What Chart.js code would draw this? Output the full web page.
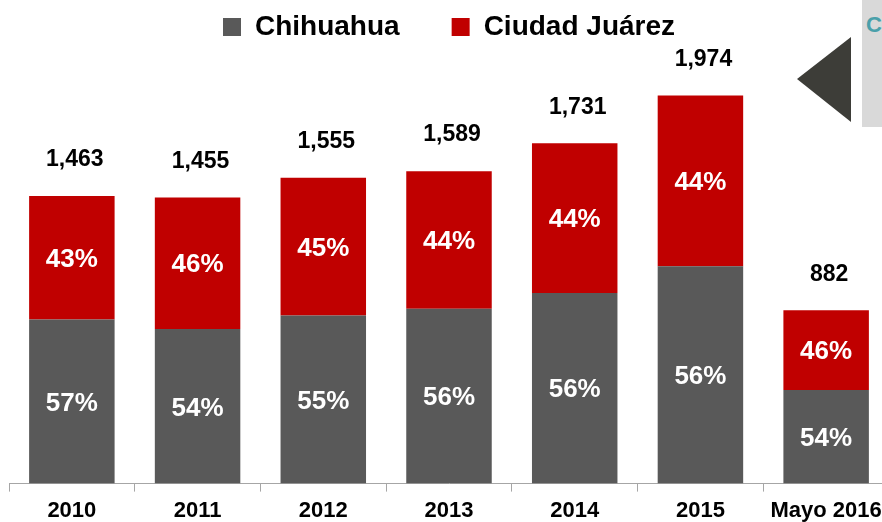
<!DOCTYPE html>
<html>
<head>
<meta charset="utf-8">
<script src="https://cdn.jsdelivr.net/npm/chart.js@4"></script>
<style>
  html, body { margin: 0; padding: 0; background: #fff; overflow: hidden; }
  #wrap { position: relative; width: 890px; height: 522px; overflow: hidden; }
  #side { position: absolute; left: 862px; top: 0; width: 40px; height: 127px; background: #d9d9d9; }
  #side span { position: absolute; left: 4px; top: 12px; font: bold 22px "Liberation Sans", Arial, sans-serif; color: #4aa0aa; }
  #arrow { position: absolute; left: 797px; top: 37px; width: 0; height: 0;
           border-top: 42px solid transparent; border-bottom: 43px solid transparent;
           border-right: 54px solid #3d3d38; }
</style>
</head>
<body>
<div id="wrap">
  <canvas id="chart" width="890" height="530"></canvas>
  <div id="arrow"></div>
  <div id="side"><span>C</span></div>
</div>
<script>
const years = ["2010", "2011", "2012", "2013", "2014", "2015", "Mayo 2016"];
const totals = [1463, 1455, 1555, 1589, 1731, 1974, 882];
const chihuahuaPct = [57, 54, 55, 56, 56, 56, 54];
const juarezPct = [43, 46, 45, 44, 44, 44, 46];

const chihuahua = totals.map((t, i) => t * chihuahuaPct[i] / 100);
const juarez = totals.map((t, i) => t * juarezPct[i] / 100);

const FONT = "'Liberation Sans', Arial, sans-serif";

// totals above each stack, shares inside each segment
const labelPlugin = {
  id: "barLabels",
  afterDatasetsDraw(chart) {
    const ctx = chart.ctx;
    const pcts = [chihuahuaPct, juarezPct];
    ctx.save();
    ctx.textAlign = "center";
    ctx.textBaseline = "middle";
    ctx.font = "bold 26px " + FONT;
    ctx.fillStyle = "#ffffff";
    pcts.forEach((arr, d) => {
      chart.getDatasetMeta(d).data.forEach((bar, i) => {
        ctx.fillText(arr[i] + "%", bar.x, (bar.y + bar.base) / 2 + 2);
      });
    });
    ctx.font = "bold 23px " + FONT;
    ctx.fillStyle = "#000000";
    chart.getDatasetMeta(1).data.forEach((bar, i) => {
      ctx.fillText(totals[i].toLocaleString("en-US"), bar.x + 3, bar.y - 36);
    });
    ctx.restore();
  }
};

new Chart(document.getElementById("chart"), {
  type: "bar",
  data: {
    labels: years,
    datasets: [
      { label: "Chihuahua", data: chihuahua, backgroundColor: "#595959", barPercentage: 0.68, categoryPercentage: 1 },
      { label: "Ciudad Juárez", data: juarez, backgroundColor: "#c00000", barPercentage: 0.68, categoryPercentage: 1 }
    ]
  },
  options: {
    responsive: false,
    animation: false,
    layout: { padding: { left: 9, right: 1, top: -39, bottom: 0 } },
    scales: {
      x: {
        stacked: true,
        grid: { offset: true, drawOnChartArea: false, tickLength: 8, color: "#a6a6a6" },
        border: { color: "#a6a6a6" },
        ticks: { color: "#000", font: { family: FONT, weight: "bold", size: 22 }, padding: 6 }
      },
      y: {
        stacked: true,
        display: false,
        min: 0,
        max: 2200
      }
    },
    plugins: {
      legend: {
        position: "top",
        labels: {
          boxWidth: 18,
          boxHeight: 18,
          color: "#000",
          padding: 52,
          font: { family: FONT, weight: "bold", size: 28 }
        }
      },
      tooltip: { enabled: false }
    }
  },
  plugins: [labelPlugin]
});
</script>
</body>
</html>
